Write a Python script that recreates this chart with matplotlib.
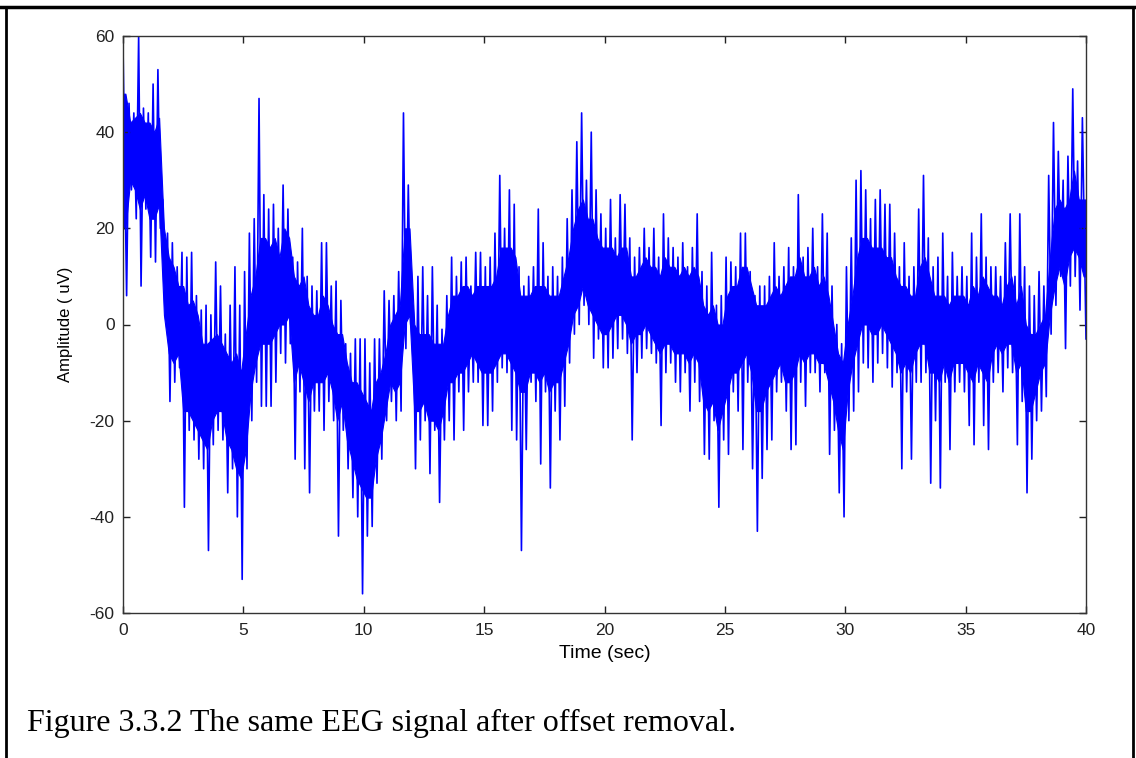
import numpy as np
import matplotlib
matplotlib.use("Agg")
import matplotlib.pyplot as plt
from matplotlib.lines import Line2D

# EEG trace, in 0.2 s bins (uV), one row = one second
BIN = 0.2

# highest / lowest excursion (spike tips) in each bin
upper = [
    58, 46, 44, 60, 45,     # 0
    44, 50, 53, 26, 19,     # 1
    17, 12, 15, 14, 15,     # 2
    6, 3, 4, 2, 13,         # 3
    8, -2, 4, 12, 4,        # 4
    11, 19, 22, 47, 27,     # 5
    24, 25, 20, 29, 24,     # 6
    14, 13, 20, 10, 8,      # 7
    7, 17, 17, 8, 9,        # 8
    5, -4, -6, -3, -3,      # 9
    -3, -8, -3, -3, 7,      # 10
    5, 6, 11, 44, 29,       # 11
    4, 10, 12, 6, 12,       # 12
    4, -1, 6, 14, 10,       # 13
    13, 14, 8, 15, 15,      # 14
    12, 14, 19, 31, 20,     # 15
    28, 25, 12, 8, 10,      # 16
    12, 24, 17, 10, 12,     # 17
    10, 14, 22, 28, 38,     # 18
    44, 30, 40, 28, 23,     # 19
    20, 26, 18, 27, 25,     # 20
    18, 14, 16, 20, 16,     # 21
    20, 14, 23, 18, 16,     # 22
    14, 17, 12, 16, 23,     # 23
    11, 8, 15, 4, 6,        # 24
    14, 13, 12, 19, 19,     # 25
    11, 6, 8, 8, 10,        # 26
    17, 10, 12, 16, 12,     # 27
    27, 14, 16, 20, 12,     # 28
    23, 19, 8, 0, -4,       # 29
    12, 18, 30, 32, 28,     # 30
    22, 26, 28, 25, 25,     # 31
    19, 12, 17, 10, 12,     # 32
    24, 31, 18, 12, 14,     # 33
    19, 10, 15, 10, 12,     # 34
    10, 19, 14, 23, 14,     # 35
    12, 12, 10, 17, 23,     # 36
    10, 23, 12, 8, 6,       # 37
    11, 8, 31, 42, 36,      # 38
    30, 35, 49, 34, 43,     # 39
]
lower = [
    6, 28, 22, 8, 24,
    14, 13, 20, 6, -16,
    -12, -9, -38, -22, -24,
    -28, -30, -47, -25, -22,
    -24, -35, -30, -40, -53,
    -30, -20, -12, -17, -17,
    -17, -12, -6, -8, -4,
    -28, -14, -30, -35, -18,
    -18, -22, -16, -20, -44,
    -22, -30, -36, -40, -56,
    -44, -42, -33, -28, -20,
    -16, -20, -18, -5, 0,
    -30, -24, -20, -31, -22,
    -37, -24, -20, -24, -14,
    -22, -14, -12, -12, -21,
    -21, -18, -12, -9, -10,
    -22, -24, -47, -26, -12,
    -16, -29, -14, -34, -18,
    -24, -17, -8, -2, 0,
    4, 0, -7, -3, -9,
    -9, -7, -5, -3, -6,
    -24, -10, -7, -5, -6,
    -8, -21, -10, -8, -12,
    -14, -10, -18, -12, -16,
    -27, -28, -20, -38, -24,
    -27, -14, -18, -26, -12,
    -30, -43, -32, -26, -24,
    -14, -12, -18, -26, -25,
    -12, -17, -10, -10, -14,
    -10, -27, -22, -35, -40,
    -20, -18, -14, -8, -9,
    -12, -8, -6, -9, -13,
    -10, -30, -14, -28, -12,
    -12, -10, -33, -20, -34,
    -12, -26, -14, -12, -14,
    -21, -25, -12, -21, -26,
    -12, -10, -14, -9, -10,
    -25, -16, -35, -28, -20,
    -18, -15, -2, 4, 10,
    -5, 8, 10, 3, -3,
]

# edges of the solid (dense) part of the trace in each bin
core_hi = [
    48, 42, 43, 44, 42,
    42, 40, 43, 20, 14,
    12, 8, 8, 4, 5,
    2, -4, -4, -3, -2,
    -4, -6, -8, -6, -10,
    -2, 6, 10, 18, 18,
    16, 18, 14, 20, 18,
    10, 8, 10, 4, 2,
    2, 6, 4, 0, -2,
    -2, -8, -12, -12, -14,
    -16, -18, -12, -10, -6,
    0, 2, 4, 20, 20,
    0, -2, -2, -2, -4,
    -4, -4, 2, 6, 6,
    8, 8, 6, 8, 8,
    8, 8, 10, 16, 16,
    16, 14, 6, 6, 6,
    8, 8, 8, 6, 6,
    6, 10, 14, 20, 24,
    26, 22, 22, 18, 16,
    16, 16, 14, 16, 16,
    10, 10, 12, 14, 12,
    12, 10, 14, 12, 12,
    10, 12, 10, 12, 10,
    4, 2, 4, 0, 0,
    6, 8, 8, 12, 12,
    8, 4, 4, 4, 6,
    8, 6, 8, 10, 10,
    14, 10, 10, 12, 8,
    10, 6, 0, -6, -8,
    0, 6, 14, 18, 18,
    16, 16, 16, 14, 14,
    10, 8, 8, 6, 6,
    12, 14, 10, 6, 6,
    6, 4, 6, 6, 6,
    4, 8, 6, 10, 8,
    6, 6, 4, 8, 10,
    4, 8, 0, -2, -2,
    0, 2, 14, 24, 26,
    24, 26, 32, 26, 26,
]
core_lo = [
    20, 30, 28, 24, 27,
    22, 22, 25, 2, -6,
    -8, -6, -18, -18, -20,
    -22, -24, -26, -20, -18,
    -18, -24, -26, -30, -32,
    -26, -14, -8, -4, -4,
    -4, -2, 0, 0, 2,
    -12, -8, -12, -16, -12,
    -12, -12, -10, -14, -20,
    -16, -24, -28, -32, -34,
    -36, -36, -28, -24, -18,
    -12, -14, -12, 0, 2,
    -18, -18, -16, -20, -20,
    -22, -18, -12, -12, -10,
    -10, -8, -6, -8, -10,
    -10, -10, -8, -6, -6,
    -8, -10, -14, -14, -10,
    -10, -12, -10, -14, -12,
    -12, -8, -4, 2, 4,
    8, 4, 2, 0, -2,
    -2, 0, 2, 2, 0,
    -4, -2, -2, 0, -2,
    -4, -6, -4, -4, -6,
    -6, -6, -8, -6, -8,
    -16, -18, -16, -22, -18,
    -14, -10, -10, -8, -6,
    -10, -18, -18, -14, -12,
    -10, -8, -12, -12, -10,
    -6, -8, -6, -6, -8,
    -8, -12, -16, -22, -26,
    -14, -8, -4, 0, 0,
    -2, -2, 0, -2, -4,
    -6, -10, -8, -10, -6,
    -4, -4, -10, -10, -12,
    -8, -12, -8, -8, -8,
    -10, -12, -8, -10, -12,
    -6, -4, -6, -4, -4,
    -10, -8, -18, -18, -14,
    -10, -8, 2, 8, 12,
    8, 14, 16, 14, 10,
]

x_ticks = [0, 5, 10, 15, 20, 25, 30, 35, 40]
y_ticks = [-60, -40, -20, 0, 20, 40, 60]

n = len(upper)
t_bins = np.arange(n) * BIN

# zigzag through each bin: peak then trough
t = np.empty(2 * n)
amp = np.empty(2 * n)
t[0::2] = t_bins + BIN * 0.25
t[1::2] = t_bins + BIN * 0.75
amp[0::2] = upper
amp[1::2] = lower
t[0] = 0.0
t[-1] = 40.0

# dense band drawn through bin centres, held to the axis ends
t_core = np.concatenate([[0.0], t_bins + BIN / 2, [40.0]])
hi_core = np.concatenate([[core_hi[0]], core_hi, [core_hi[-1]]])
lo_core = np.concatenate([[core_lo[0]], core_lo, [core_lo[-1]]])

plt.rcParams["font.family"] = ["Liberation Sans", "DejaVu Sans"]
plt.rcParams["axes.unicode_minus"] = False

fig = plt.figure(figsize=(11.36, 7.58), dpi=100)
ax = fig.add_axes([123 / 1136, 1 - 613 / 758, (1086 - 123) / 1136, (613 - 36) / 758])

blue = "#0000ff"
ax.fill_between(t_core, lo_core, hi_core, color=blue, lw=0.8, edgecolor=blue)
ax.plot(t, amp, color=blue, lw=1.2)

ax.set_xlim(0, 40)
ax.set_ylim(-60, 60)
ax.set_xticks(x_ticks)
ax.set_yticks(y_ticks)
ax.tick_params(direction="in", top=True, right=True, length=5, width=1,
               labelsize=12.5, colors="#222222")
ax.tick_params(axis="x", pad=7)
ax.tick_params(axis="y", pad=6)
for sp in ax.spines.values():
    sp.set_linewidth(1)
    sp.set_color("#333333")

ax.set_xlabel("Time (sec)", fontsize=14, labelpad=5)
ax.set_ylabel("Amplitude ( uV)", fontsize=12, labelpad=12)

# table cell border around the figure
fig.add_artist(Line2D([0, 1], [1 - 7 / 758, 1 - 7 / 758], color="black", lw=2.5,
                      transform=fig.transFigure))
fig.add_artist(Line2D([6 / 1136, 6 / 1136], [0, 1 - 7 / 758], color="black", lw=2,
                      transform=fig.transFigure))
fig.add_artist(Line2D([1133 / 1136, 1133 / 1136], [0, 1 - 7 / 758], color="black", lw=2,
                      transform=fig.transFigure))

fig.text(27 / 1136, 1 - 723 / 758, "Figure 3.3.2 The same EEG signal after offset removal.",
         family=["Liberation Serif", "DejaVu Serif"], fontsize=23, va="center", ha="left")

fig.savefig("out.png", dpi=100)
